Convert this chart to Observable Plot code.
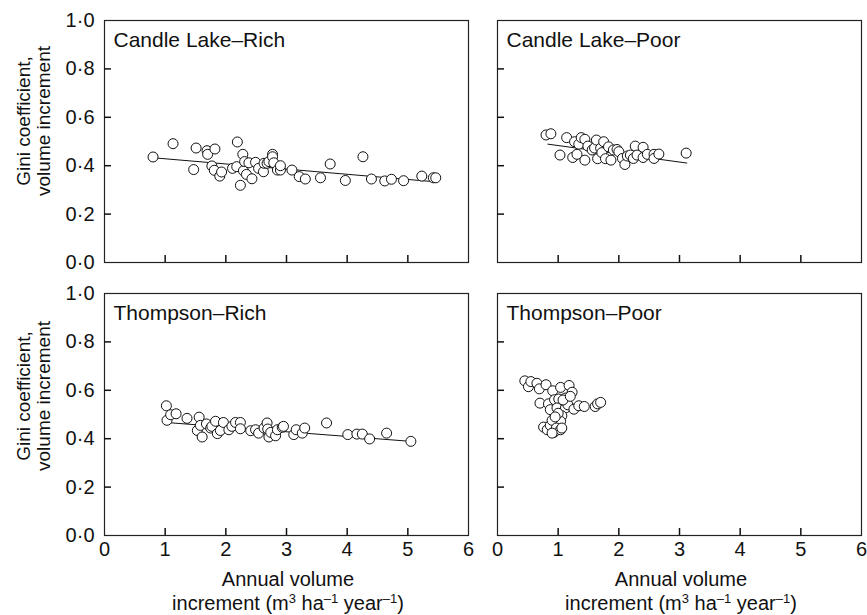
<!DOCTYPE html>
<html>
<head>
<meta charset="utf-8">
<script src="https://cdn.jsdelivr.net/npm/d3@7"></script>
<script src="https://cdn.jsdelivr.net/npm/@observablehq/plot@0.6"></script>
<style>
  html, body { margin: 0; padding: 0; background: #fff; }
  #chart { width: 867px; height: 615px; }
</style>
</head>
<body>
<div id="chart"></div>
<script>
// ---- Data ----
const sites = ["Candle Lake", "Thompson"];
const fertilities = ["Rich", "Poor"];
const panelTitles = ["Candle Lake–Rich", "Candle Lake–Poor", "Thompson–Rich", "Thompson–Poor"];
const panelSites = ["Candle Lake", "Candle Lake", "Thompson", "Thompson"];
const panelFertility = ["Rich", "Poor", "Rich", "Poor"];

const xTicks = [0, 1, 2, 3, 4, 5, 6];
const xInnerTicks = [1, 2, 3, 4, 5];
const yTicks = [0, 0.2, 0.4, 0.6, 0.8, 1.0];
const yInnerTicks = [0.2, 0.4, 0.6, 0.8];

const clRichX = [0.80,1.13,1.47,1.51,1.69,1.70,1.82,1.77,1.81,1.90,1.93,2.11,2.19,2.18,2.24,2.28,2.29,2.31,2.34,2.38,2.43,2.49,2.54,2.62,2.63,2.68,2.71,2.77,2.77,2.79,2.85,2.90,2.90,3.09,3.21,3.31,3.56,3.72,3.97,4.26,4.40,4.62,4.73,4.93,5.23,5.42,5.46];
const clRichY = [0.436,0.491,0.384,0.473,0.462,0.447,0.469,0.399,0.381,0.357,0.374,0.389,0.498,0.396,0.319,0.447,0.379,0.417,0.364,0.412,0.346,0.414,0.389,0.375,0.410,0.410,0.417,0.447,0.437,0.412,0.382,0.382,0.400,0.382,0.355,0.345,0.350,0.407,0.339,0.437,0.345,0.337,0.344,0.338,0.357,0.350,0.350];

const clPoorX = [0.80,0.88,1.03,1.14,1.24,1.27,1.31,1.34,1.38,1.44,1.44,1.49,1.56,1.60,1.63,1.65,1.70,1.72,1.75,1.78,1.83,1.87,1.91,1.97,2.00,2.06,2.10,2.14,2.19,2.24,2.27,2.30,2.40,2.40,2.47,2.58,2.58,2.66,3.11];
const clPoorY = [0.527,0.532,0.444,0.516,0.434,0.499,0.447,0.489,0.516,0.423,0.509,0.481,0.465,0.473,0.506,0.429,0.472,0.454,0.499,0.429,0.478,0.423,0.465,0.467,0.458,0.430,0.405,0.440,0.444,0.430,0.481,0.444,0.476,0.434,0.447,0.447,0.430,0.448,0.452];

const thRichX = [1.02,1.03,1.09,1.18,1.36,1.56,1.53,1.61,1.58,1.68,1.75,1.77,1.83,1.86,1.91,1.96,2.05,2.10,2.16,2.24,2.24,2.41,2.49,2.54,2.63,2.68,2.69,2.71,2.74,2.82,2.85,2.93,2.95,3.12,3.16,3.26,3.30,3.66,4.01,4.16,4.25,4.37,4.65,5.05];
const thRichY = [0.536,0.476,0.499,0.503,0.484,0.489,0.434,0.407,0.455,0.461,0.444,0.451,0.472,0.421,0.434,0.467,0.437,0.451,0.467,0.467,0.441,0.433,0.437,0.423,0.444,0.465,0.440,0.407,0.426,0.412,0.437,0.447,0.451,0.417,0.437,0.423,0.444,0.465,0.417,0.419,0.419,0.399,0.423,0.389];

const thPoorX = [0.45,0.51,0.55,0.65,0.69,0.80,0.91,1.04,1.18,1.23,0.70,0.84,0.87,0.94,1.01,1.12,0.98,1.12,1.16,1.26,1.34,1.43,1.61,1.65,1.70,1.06,1.04,0.76,0.82,0.87,0.90,0.93,0.97,1.04,1.06,0.90,1.00,1.08,0.95,1.20];
const thPoorY = [0.639,0.615,0.636,0.629,0.606,0.623,0.598,0.612,0.620,0.592,0.547,0.544,0.520,0.561,0.564,0.568,0.527,0.527,0.540,0.522,0.536,0.533,0.533,0.544,0.550,0.495,0.472,0.448,0.437,0.455,0.476,0.426,0.444,0.437,0.444,0.423,0.505,0.560,0.490,0.575];

// fitted regression line endpoints (panels with a fit)
const fitSite = ["Candle Lake", "Candle Lake", "Candle Lake", "Candle Lake", "Thompson", "Thompson"];
const fitFert = ["Rich", "Rich", "Poor", "Poor", "Rich", "Rich"];
const fitX = [0.84, 5.43, 0.83, 3.12, 1.02, 5.05];
const fitY = [0.432, 0.334, 0.489, 0.411, 0.467, 0.389];

// ---- Build tables ----
function rows(xs, ys, site, fert) {
  return xs.map((x, i) => ({x, y: ys[i], site, fert}));
}
const points = [
  ...rows(clRichX, clRichY, "Candle Lake", "Rich"),
  ...rows(clPoorX, clPoorY, "Candle Lake", "Poor"),
  ...rows(thRichX, thRichY, "Thompson", "Rich"),
  ...rows(thPoorX, thPoorY, "Thompson", "Poor")
];
const fits = fitX.map((x, i) => ({x, y: fitY[i], site: fitSite[i], fert: fitFert[i]}));
const titles = panelTitles.map((t, i) => ({text: t, site: panelSites[i], fert: panelFertility[i]}));

const fmt = d => d.toFixed(1).replace(".", "·");
const font = "'Liberation Sans', Arial, Helvetica, sans-serif";

const chart = Plot.plot({
  width: 867,
  height: 615,
  marginLeft: 104,
  marginRight: 6,
  marginTop: 20,
  marginBottom: 80,
  style: {fontFamily: font, fontSize: "20px", color: "#111", background: "#fff"},
  fx: {domain: fertilities, paddingInner: 0.074, paddingOuter: 0, axis: null},
  fy: {domain: sites, paddingInner: 0.114, paddingOuter: 0, axis: null},
  x: {domain: [0, 6]},
  y: {domain: [0, 1]},
  marks: [
    Plot.frame({stroke: "#222", strokeWidth: 1.2}),
    Plot.axisX(xTicks, {anchor: "bottom", tickSize: 0, tickPadding: 6, tickFormat: d => String(d), label: null, fontSize: 20}),
    Plot.axisY(yTicks, {anchor: "left", tickSize: 0, tickPadding: 10, tickFormat: fmt, label: null, fontSize: 20}),
    Plot.tickX(xInnerTicks, {x: d => d, insetTop: 235, stroke: "#111", strokeWidth: 1.5}),
    Plot.tickY(yInnerTicks, {y: d => d, insetRight: 357, stroke: "#111", strokeWidth: 1.5}),
    Plot.line(fits, {x: "x", y: "y", fx: "fert", fy: "site", z: d => d.site + d.fert, stroke: "#111", strokeWidth: 1}),
    Plot.dot(points, {x: "x", y: "y", fx: "fert", fy: "site", r: 5, stroke: "#111", fill: "white", strokeWidth: 1}),
    Plot.text(titles, {text: "text", fx: "fert", fy: "site", frameAnchor: "top-left", dx: 9, dy: 12, fontSize: 21, fill: "#111"})
  ]
});

document.getElementById("chart").appendChild(chart);

const svg = d3.select(chart);

// ---- axis titles ----
const yCenters = [121, 396];
yCenters.forEach(cy => {
  const g = svg.append("g").attr("transform", `translate(0,${cy})`).attr("font-family", font).attr("font-size", 19).attr("fill", "#111");
  g.append("text").attr("transform", "translate(30,0) rotate(-90)").attr("text-anchor", "middle").text("Gini coefficient,");
  g.append("text").attr("transform", "translate(50,0) rotate(-90)").attr("text-anchor", "middle").text("volume increment");
});
const xCenters = [288, 681];
xCenters.forEach(cx => {
  const g = svg.append("g").attr("font-family", font).attr("font-size", 20).attr("fill", "#111");
  g.append("text").attr("x", cx).attr("y", 586).attr("text-anchor", "middle").text("Annual volume");
  const t = g.append("text").attr("x", cx).attr("y", 610).attr("text-anchor", "middle");
  t.append("tspan").text("increment (m");
  t.append("tspan").attr("font-size", 13).attr("dy", -7).text("3");
  t.append("tspan").attr("dy", 7).text(" ha");
  t.append("tspan").attr("font-size", 13).attr("dy", -7).text("–1");
  t.append("tspan").attr("dy", 7).text(" year");
  t.append("tspan").attr("font-size", 13).attr("dy", -7).text("–1");
  t.append("tspan").attr("dy", 7).text(")");
});
</script>
</body>
</html>
